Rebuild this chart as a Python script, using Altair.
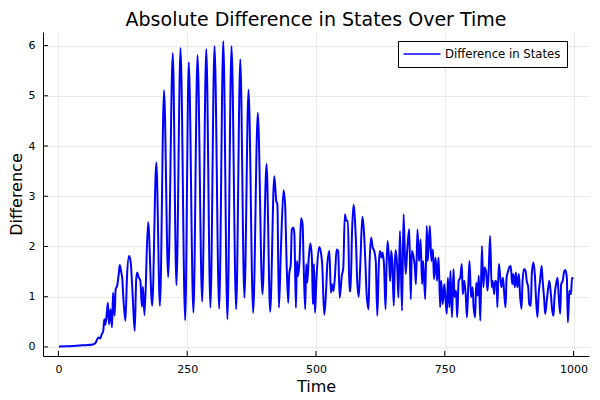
import altair as alt
import pandas as pd

# ---- data ----
times = [
    1, 15, 28, 41, 54, 67, 72, 75, 78, 81, 84, 87, 89, 91, 94, 96, 98, 101, 104, 106,
    109, 111, 114, 117, 119, 122, 124, 126, 130, 133, 137, 140, 144, 148, 151, 153, 156, 159, 162, 164,
    167, 174, 182, 190, 197, 205, 213, 222, 229, 237, 246, 253, 262, 270, 279, 287, 295, 303, 312, 320,
    328, 336, 345, 353, 361, 369, 378, 387, 396, 404, 411, 419, 423, 425, 428,
    432, 437, 440, 443, 446, 448, 451, 453, 456, 458, 461, 463, 465, 468, 471, 474, 476, 479, 481, 483,
    486, 489, 492, 494, 496, 498, 501, 506, 509, 512, 516, 519, 522, 526, 529, 531, 534, 537, 540, 543,
    546, 550, 553, 556, 559, 562, 565, 567, 570, 573, 575, 578, 580, 583, 586, 590, 593, 596, 598, 602,
    604, 607, 610, 613, 616, 619, 622, 624, 627, 629, 632, 635, 637, 639, 642, 644, 646, 648, 651, 653,
    655, 658, 660,
    663, 667, 670, 674, 677, 681, 684, 686, 689, 692, 694, 697, 700, 703, 706, 708, 712, 715, 717, 721,
    724, 727, 729, 732, 735, 738, 741, 743, 746, 749, 751, 754, 756, 759, 761, 764, 767, 769, 772, 774,
    777, 780, 783, 785, 788, 791, 793, 796, 798, 801, 804, 806, 809, 811, 814, 816, 819, 822, 825, 827,
    830, 833, 835, 838,
    841, 843, 846, 848, 851, 852, 855, 857, 860, 863, 865, 868, 870, 873, 875, 878, 881, 883, 886, 888,
    891, 894, 896, 899, 901, 904, 907, 909, 912, 914, 917, 919, 922, 925, 927, 930, 932, 935, 938, 940,
    943, 945, 948, 951, 953, 956, 958, 961, 963, 966, 969, 971, 974, 976, 979, 982, 984, 987, 989, 992,
    995, 997, 999,
]
values = [
    0.01, 0.012, 0.018, 0.03, 0.035, 0.05, 0.08, 0.15, 0.19, 0.17, 0.25, 0.32, 0.55, 0.44, 0.68, 0.88, 0.45, 0.75, 0.39, 1.08,
    0.62, 1.15, 1.22, 1.45, 1.63, 1.48, 1.35, 0.98, 0.52, 1.38, 1.81, 1.71, 1.05, 0.32, 1.35, 1.48, 1.38, 1.32, 0.80, 1.20,
    0.63, 2.49, 0.82, 3.67, 0.82, 5.11, 1.39, 5.85, 1.23, 5.95, 0.53, 5.67, 0.68, 5.81, 0.90, 5.93, 0.78, 5.99, 0.76, 6.09,
    0.55, 5.99, 0.75, 5.73, 0.98, 5.12, 0.68, 4.66, 1.05, 3.64, 0.70, 3.40, 2.90, 2.85, 0.78,
    1.98, 3.12, 2.84, 1.65, 0.88, 1.45, 1.65, 2.34, 2.38, 2.25, 0.78, 1.71, 1.41, 1.71, 2.56, 2.44, 1.65, 0.75, 1.65, 1.28,
    1.78, 2.06, 1.78, 0.85, 1.65, 0.68, 1.38, 1.99, 1.91, 1.65, 0.64, 1.00, 1.65, 1.91, 1.08, 1.25, 1.11, 1.45, 1.94, 1.91,
    0.98, 1.41, 1.58, 2.64, 2.51, 2.51, 1.11, 1.11, 2.31, 2.83, 2.64, 1.98, 1.31, 1.00, 1.65, 2.59, 2.31, 1.65, 1.11, 0.75,
    1.65, 2.18, 1.98, 1.91, 1.71, 0.62, 1.65, 1.91, 1.78, 1.88, 1.65, 0.75, 1.65, 2.11, 1.71, 1.31, 1.91, 1.71, 0.82, 1.65,
    1.93, 1.51, 0.98,
    2.31, 0.72, 2.64, 1.45, 1.91, 2.35, 0.95, 1.91, 1.81, 1.58, 1.25, 2.34, 1.71, 2.14, 1.25, 1.71, 0.95, 2.41, 1.71, 2.41,
    1.71, 1.94, 1.35, 1.78, 1.32, 1.78, 0.79, 1.32, 0.85, 1.25, 1.02, 0.66, 1.38, 0.79, 1.51, 0.59, 1.55, 0.99, 1.12, 0.59,
    1.32, 1.38, 1.65, 1.05, 1.32, 0.99, 0.59, 1.32, 1.71, 0.99, 1.19, 0.79, 0.59, 1.28, 1.02, 1.42, 0.52, 2.01, 1.19, 1.58,
    1.51, 1.12, 1.45, 2.21,
    1.19, 1.32, 1.05, 1.32, 1.28, 0.79, 1.65, 1.48, 1.19, 1.38, 1.12, 0.79, 1.38, 1.51, 1.58, 1.61, 1.25, 1.45, 1.19, 1.48,
    1.19, 1.45, 1.05, 0.76, 1.32, 1.55, 1.51, 1.32, 1.19, 0.85, 0.82, 1.45, 1.68, 1.42, 0.99, 0.59, 1.02, 1.32, 1.61, 1.32,
    0.95, 0.66, 0.92, 1.19, 1.32, 1.05, 0.79, 0.62, 0.99, 1.25, 1.38, 1.05, 0.66, 1.25, 1.32, 1.51, 1.53, 1.38, 0.49, 1.12,
    1.05, 1.38, 1.35,
]
x_ticks = [0, 250, 500, 750, 1000]
y_ticks = [0, 1, 2, 3, 4, 5, 6]
series_name = "Difference in States"
title_text = "Absolute Difference in States Over Time"

df = pd.DataFrame({"Time": times, "Difference": values, "series": series_name})
xt_df = pd.DataFrame({"Time": x_ticks})
yt_df = pd.DataFrame({"Difference": y_ticks})

W, H = 546, 324
FONT = "DejaVu Sans"

x_scale = alt.Scale(domain=[-30, 1030], nice=False, zero=False)
y_scale = alt.Scale(domain=[-0.18, 6.27], nice=False, zero=False)

x_axis = alt.Axis(values=x_ticks, format="d", title="Time", labelPadding=7,
                  titleY=35, titleBaseline="alphabetic")
y_axis = alt.Axis(values=y_ticks, format="d", title="Difference", labelPadding=8,
                  titleX=-22, titleBaseline="alphabetic")

X = alt.X("Time:Q", scale=x_scale, axis=x_axis)
Y = alt.Y("Difference:Q", scale=y_scale, axis=y_axis)

line = alt.Chart(df).mark_line(interpolate="monotone", strokeWidth=2).encode(
    x=X,
    y=Y,
    color=alt.Color(
        "series:N",
        scale=alt.Scale(domain=[series_name], range=["#0000ff"]),
        legend=alt.Legend(
            title=None, orient="none", legendX=355, legendY=9,
            symbolType="M-3,0H3", symbolSize=152, symbolStrokeWidth=1.6,
            symbolOffset=11, labelOffset=16,
            strokeColor="black", fillColor="white", padding=6,
            labelFont=FONT, labelFontSize=11.7, labelColor="black",
        ),
    ),
)

x_tick_marks = alt.Chart(xt_df).mark_rule(color="black", strokeWidth=1).encode(
    x=X, y=alt.value(H), y2=alt.value(H - 5)
)
y_tick_marks = alt.Chart(yt_df).mark_rule(color="black", strokeWidth=1).encode(
    y=Y, x=alt.value(0), x2=alt.value(5)
)

chart = alt.layer(line, x_tick_marks, y_tick_marks).properties(
    width=W,
    height=H,
    autosize=alt.AutoSizeParams(type="none"),
    padding={"left": 35, "top": 24, "right": 3, "bottom": 40},
    title=alt.TitleParams(
        title_text, font=FONT, fontSize=19, fontWeight="normal", color="black",
        anchor="middle", frame="group", offset=2,
    ),
).configure_view(stroke=None).configure_axis(
    grid=True, gridColor="#e9e9e9", gridWidth=1,
    domainColor="black", domainWidth=1,
    ticks=False, tickSize=0,
    labelFont=FONT, labelFontSize=11, labelColor="black",
    titleFont=FONT, titleFontSize=16, titleFontWeight="normal", titleColor="black",
)

chart.save("out.html", embed_options={"renderer": "svg", "actions": False})
